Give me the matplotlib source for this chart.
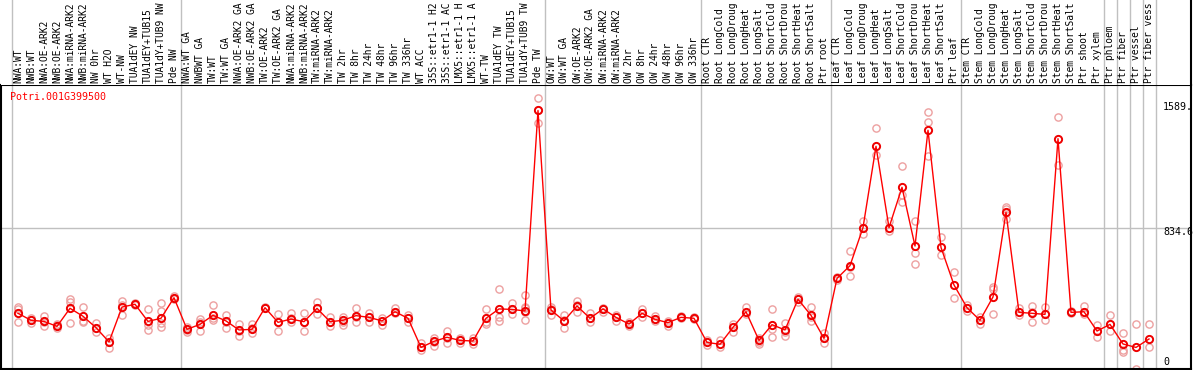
import matplotlib
matplotlib.use("Agg")
import matplotlib.pyplot as plt

W, H = 1194, 370

categories = [
    "NWA:WT", "NWB:WT", "NWA:OE-ARK2", "NWB:OE-ARK2", "NWA:miRNA-ARK2", "NWB:miRNA-ARK2",
    "NW 0hr", "WT H2O", "WT-NW", "TUA1dEY NW", "TUA1dEY+TUB15", "TUA1dY+TUB9 NW", "Pde NW",
    "NWA:WT GA", "NWBWT GA", "TW:WT", "TW:WT GA", "NWA:OE-ARK2 GA", "NWB:OE-ARK2 GA",
    "TW:OE-ARK2", "TW:OE-ARK2 GA", "NWA:miRNA-ARK2", "NWB:miRNA-ARK2", "TW:miRNA-ARK2",
    "TW:miRNA-ARK2", "TW 2hr", "TW 8hr", "TW 24hr", "TW 48hr", "TW 96hr", "TW 336hr",
    "WT ACC", "35S::etr1-1 H2", "35S::etr1-1 AC", "LMX5::etr1-1 H", "LMX5::etr1-1 A",
    "WT-TW", "TUA1dEY TW", "TUA1dEY+TUB15", "TUA1dY+TUB9 TW", "Pde TW",
    "OW:WT", "OW:WT GA", "OW:OE-ARK2", "OW:OE-ARK2 GA", "OW:miRNA-ARK2", "OW:miRNA-ARK2",
    "OW 2hr", "OW 8hr", "OW 24hr", "OW 48hr", "OW 96hr", "OW 336hr",
    "Root CTR", "Root LongCold", "Root LongDroug", "Root LongHeat", "Root LongSalt",
    "Root ShortCold", "Root ShortDrou", "Root ShortHeat", "Root ShortSalt", "Ptr root",
    "Leaf CTR", "Leaf LongCold", "Leaf LongDroug", "Leaf LongHeat", "Leaf LongSalt",
    "Leaf ShortCold", "Leaf ShortDrou", "Leaf ShortHeat", "Leaf ShortSalt", "Ptr leaf",
    "Stem CTR", "Stem LongCold", "Stem LongDroug", "Stem LongHeat", "Stem LongSalt",
    "Stem ShortCold", "Stem ShortDrou", "Stem ShortHeat", "Stem ShortSalt", "Ptr shoot",
    "Ptr xylem", "Ptr phloem", "Ptr fiber", "Ptr vessel", "Ptr fiber vess",
]

means = [
    287, 242, 235, 203, 319, 268, 195, 103, 327, 345, 235, 255, 387,
    184, 216, 274, 238, 180, 184, 323, 229, 250, 233, 319, 233, 242, 272, 261, 238, 297, 255,
    68, 107, 133, 113, 109, 255, 315, 312, 302, 1589,
    308, 238, 334, 255, 315, 261, 218, 287, 248, 227, 261, 255,
    100, 88, 197, 297, 113, 214, 180, 377, 274, 126,
    511, 593, 837, 1359, 837, 1096, 719, 1462, 710, 469,
    323, 242, 392, 935, 293, 287, 280, 1408, 293, 297,
    173, 216, 90, 68, 122,
]

replicates = [
    [330, 315, 229], [259, 223, 244], [272, 208, 233], [212, 190, 216], [377, 357, 223],
    [327, 238, 229], [223, 190, 169], [131, 66, 105], [366, 276, 340], [351, 340, 345],
    [312, 212, 180], [351, 304, 223, 197], [400, 379],
    [201, 169, 180], [250, 173, 229], [340, 244, 255], [276, 195, 229], [216, 143, 173],
    [216, 158, 190], [330, 319], [280, 175, 229], [287, 229, 255], [287, 175, 233],
    [357, 280, 323], [265, 208, 233], [265, 212, 233], [319, 233, 265], [287, 229, 261],
    [259, 212, 238], [319, 293, 287], [276, 229, 255],
    [94, 51, 68], [131, 77, 105], [175, 94, 126], [131, 94, 113], [126, 88, 109],
    [315, 216, 229], [443, 261, 238], [351, 280, 312], [404, 330, 244, 319, 297], [1667, 1507, 1592],
    [330, 276, 315], [276, 190, 244], [366, 297, 340], [287, 229, 255], [323, 297, 315],
    [276, 238, 261], [229, 208, 218], [315, 261, 287], [272, 238, 248], [238, 208, 227],
    [272, 255], [265, 248],
    [116, 83], [116, 73], [216, 169], [330, 280], [101, 88, 126], [312, 184, 137],
    [223, 143, 169], [389, 362], [330, 238, 265], [158, 94, 126],
    [522, 501], [687, 526, 586], [880, 794, 837], [1474, 1303], [880, 815],
    [1233, 1046, 999], [880, 676, 601], [1577, 1513, 1297], [777, 661], [550, 383],
    [340, 302], [265, 216], [458, 443, 280], [972, 957, 890], [319, 276], [336, 229, 297],
    [330, 244], [1549, 1239], [302, 287], [336, 280],
    [212, 133], [276, 173], [158, 51, 41], [216, -70], [216, 68],
]

group_edges = [-0.5, 12.5, 40.5, 52.5, 62.5, 72.5, 83.5, 84.5, 85.5, 86.5, 87.5]
gene_id = "Potri.001G399500"
axis_labels = ["1589.", "834.6", "0"]
grid_value = 834.6

mono = "DejaVu Sans Mono"
fig = plt.figure(figsize=(W / 100, H / 100), dpi=100)

# pixel geometry
px_left, px_right = 1, 1191
px_top, px_bot = 85, 369
x0_pix, dx_pix = 18, 13
xmin = (px_left - x0_pix) / dx_pix
xmax = (px_right - x0_pix) / dx_pix
scale = 0.15576  # px per unit
y0_pix = 358
ymin = (y0_pix - px_bot) / scale
ymax = (y0_pix - px_top) / scale

ax = fig.add_axes([px_left / W, 1 - px_bot / H, (px_right - px_left) / W, (px_bot - px_top) / H])
ax.set_xlim(xmin, xmax)
ax.set_ylim(ymin, ymax)
ax.set_xticks([])
ax.set_yticks([])
for s in ax.spines.values():
    s.set_linewidth(1.5)
    s.set_color("black")

ax.axhline(grid_value, color="#c0c0c0", lw=1, zorder=0)
for e in group_edges:
    ax.axvline(e, color="#c0c0c0", lw=1, zorder=0)

xs = list(range(len(categories)))
for i, reps in enumerate(replicates):
    ax.plot([i] * len(reps), reps, linestyle="none", marker="o", markersize=5.2,
            markerfacecolor="none", markeredgecolor="#eda0a0", markeredgewidth=1.0, zorder=2,
            clip_on=True)
ax.plot(xs, means, color="#ff0000", lw=1.0, zorder=3)
ax.plot(xs, means, linestyle="none", marker="o", markersize=5.2, markerfacecolor="none",
        markeredgecolor="#ee0000", markeredgewidth=1.4, zorder=4)

ax.text(9 / (px_right - px_left), 1 - (97 - px_top) / (px_bot - px_top), gene_id,
        transform=ax.transAxes, color="#ff0000", fontsize=7.2, family=mono,
        ha="left", va="center")

# right value labels (figure pixel positions)
for lab, ypx in zip(axis_labels, [107, 232, 362]):
    fig.text(1163 / W, 1 - ypx / H, lab, fontsize=7.2, family=mono, ha="left", va="center",
             color="black")

# label area
lax = fig.add_axes([px_left / W, 1 - px_top / H, (px_right - px_left) / W, px_top / H])
lax.set_xlim(xmin, xmax)
lax.set_ylim(0, px_top)
lax.set_xticks([])
lax.set_yticks([])
for k, s in lax.spines.items():
    s.set_visible(k == "right")
lax.spines["right"].set_linewidth(1.5)
for e in group_edges:
    lax.axvline(e, color="#c0c0c0", lw=1, zorder=0)
for i, lab in enumerate(categories):
    lax.text(i, 2, lab, rotation=90, ha="center", va="bottom", fontsize=6.9,
             family=mono, color="black", rotation_mode="default", clip_on=False)

fig.savefig("out.png", dpi=100)
